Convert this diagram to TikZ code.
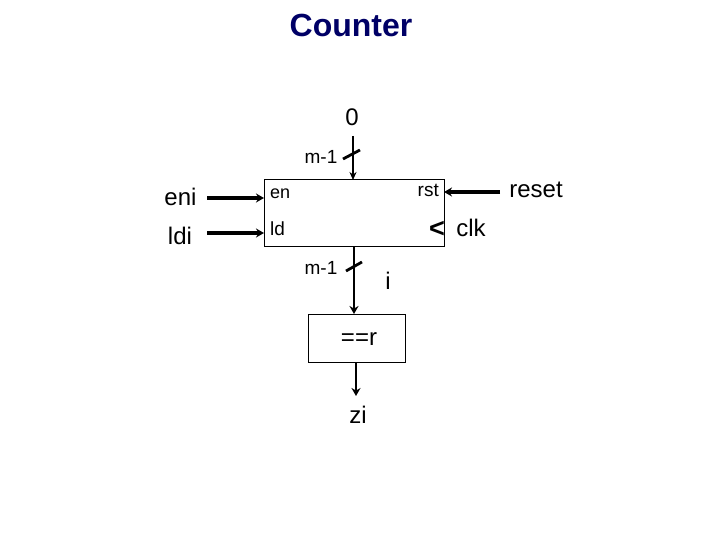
\documentclass[tikz,border=0pt]{standalone}
\usepackage{fontspec}
\setmainfont{Liberation Sans}
\usetikzlibrary{arrows.meta}
\definecolor{titleblue}{RGB}{0,0,102}
\tikzset{
  lbl/.style={inner sep=0pt,font=\fontsize{24}{24}\selectfont},
  pin/.style={inner sep=0pt,font=\fontsize{19}{19}\selectfont},
  block/.style={draw,line width=1pt,inner sep=0pt},
  wire/.style={line width=3.2pt,-{Stealth[length=8pt,width=9pt]}},
  downwire/.style={line width=2.6pt,-{Stealth[length=8pt,width=9pt]}},
  thinwire/.style={line width=1.8pt,-{Stealth[length=8pt,width=7pt]}},
  slash/.style={line width=2.8pt}
}
\begin{document}
\begin{tikzpicture}[x=1pt,y=-1pt]
  \useasboundingbox (0,0) rectangle (720,540);

  % Title
  \node[inner sep=0pt,font=\fontsize{32}{32}\selectfont\bfseries,text=titleblue] (title) at (351,25) {Counter};

  % Counter block
  \node[block,minimum width=180pt,minimum height=66pt] (cnt) at (354,213) {};
  \node[pin,anchor=west,font=\fontsize{18}{18}\selectfont] (en) at (270,194) {en};
  \node[pin,anchor=west] (ld) at (270,229) {ld};
  \node[pin,anchor=east] (rst) at (439,190) {rst};
  \node[font=\fontsize{27}{27}\selectfont\bfseries,inner sep=0pt] (clktip) at (437,229) {<};

  % Comparator block
  \node[block,minimum width=97pt,minimum height=48pt] (cmp) at (356.5,338) {};
  \node[lbl] (eqr) at (359,339) {==r};

  % Inputs on the left
  \node[lbl] (eni) at (180.5,197) {eni};
  \node[lbl] (ldi) at (180,236) {ldi};
  \coordinate (enin) at (264,198);
  \coordinate (ldin) at (264,233);
  \draw[wire] (207,198) -- (enin);
  \draw[wire] (207,233) -- (ldin);

  % Inputs on the right
  \node[lbl] (reset) at (536,190) {reset};
  \node[lbl] (clk) at (471,228) {clk};
  \coordinate (rstin) at (444,192);
  \draw[wire] (500,192) -- (rstin);

  % Load value from above
  \node[lbl] (zero) at (352,117) {0};
  \node[pin] (mtop) at (321,157) {m-1};
  \coordinate (cnttop) at (353,180);
  \draw[thinwire] (353,136) -- (cnttop);
  \draw[slash] (343,159) -- (360,150);

  % Count value down to the comparator
  \node[pin] (mbot) at (321,268) {m-1};
  \node[lbl] (ival) at (388,281) {i};
  \coordinate (cntbot) at (354,246);
  \coordinate (cmptop) at (354,314);
  \draw[downwire] (cntbot) -- (cmptop);
  \draw[slash] (346,271) -- (362,262);

  % Output
  \node[lbl] (zi) at (358,415) {zi};
  \coordinate (cmpbot) at (356,362);
  \coordinate (ziend) at (356,396);
  \draw[downwire] (cmpbot) -- (ziend);
\end{tikzpicture}
\end{document}
